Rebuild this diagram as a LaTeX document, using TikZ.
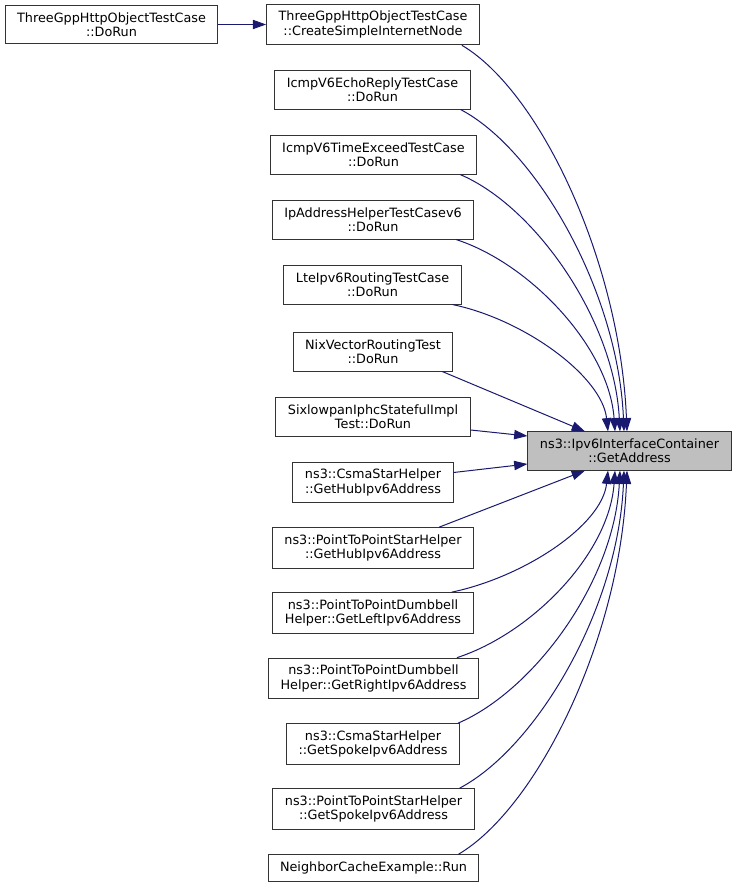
\documentclass[tikz,border=0pt]{standalone}
\usepackage{fontspec}
\setsansfont{DejaVu Sans}
\usepackage{xcolor}
\usepackage{tikz}
\usetikzlibrary{arrows.meta,calc}
\definecolor{midnight}{HTML}{191970}

\begin{document}
\begin{tikzpicture}[
  x=0.75pt, y=-0.75pt,
  fn/.style={draw=black!80, fill=white, line width=0.75pt, rectangle,
    align=center, font=\sffamily\fontsize{9.6}{10.6}\selectfont,
    inner xsep=9pt, inner ysep=5.3pt, minimum height=19.5pt},
  target/.style={fn, fill=black!25},
  call/.style={midnight, line width=0.75pt,
    -{Triangle[length=10pt,width=7pt]}}
]
\useasboundingbox (0,0) rectangle (736,887);

% Called function
\node[target] (getaddr) at (629.5,451) {ns3::Ipv6InterfaceContainer\\::GetAddress};

% Callers
\node[fn] (httprun) at (111.5,24.5) {ThreeGppHttpObjectTestCase\\::DoRun};
\node[fn] (simplenode) at (373,24.5) {ThreeGppHttpObjectTestCase\\::CreateSimpleInternetNode};
\node[fn] (echorun) at (372.5,90) {IcmpV6EchoReplyTestCase\\::DoRun};
\node[fn] (timerun) at (373.5,155) {IcmpV6TimeExceedTestCase\\::DoRun};
\node[fn] (iphelprun) at (373,220) {IpAddressHelperTestCasev6\\::DoRun};
\node[fn] (lterun) at (372.5,285) {LteIpv6RoutingTestCase\\::DoRun};
\node[fn] (nixrun) at (373,352) {NixVectorRoutingTest\\::DoRun};
\node[fn] (iphcrun) at (373,417) {SixlowpanIphcStatefulImpl\\Test::DoRun};
\node[fn] (csmahub) at (373,482.5) {ns3::CsmaStarHelper\\::GetHubIpv6Address};
\node[fn] (p2phub) at (373,548) {ns3::PointToPointStarHelper\\::GetHubIpv6Address};
\node[fn] (dbleft) at (373,613) {ns3::PointToPointDumbbell\\Helper::GetLeftIpv6Address};
\node[fn] (dbright) at (373.5,678.5) {ns3::PointToPointDumbbell\\Helper::GetRightIpv6Address};
\node[fn] (csmaspoke) at (373,744) {ns3::CsmaStarHelper\\::GetSpokeIpv6Address};
\node[fn] (p2pspoke) at (373.5,809) {ns3::PointToPointStarHelper\\::GetSpokeIpv6Address};
\node[fn] (ncrun) at (373.5,868) {NeighborCacheExample::Run};

% Calls
\draw[call] (httprun) -- (simplenode);

\draw[call] ($(simplenode.south east)+(-18,0)$) .. controls +(78,46) and +(-7,-170)
  .. ($(getaddr.north)+(-2.5,0)$);
\draw[call] ($(echorun.south east)+(-10,0)$) .. controls +(76,40) and +(-6,-140)
  .. ($(getaddr.north)+(-5.5,0)$);
\draw[call] ($(timerun.south east)+(-17,0)$) .. controls +(75,32) and +(-6,-112)
  .. ($(getaddr.north)+(-9.5,0)$);
\draw[call] ($(iphelprun.south east)+(-18,0)$) .. controls +(74,24) and +(-6,-84)
  .. ($(getaddr.north)+(-14.5,0)$);
\draw[call] ($(lterun.south east)+(-9,0)$) .. controls +(72,15) and +(-6,-55)
  .. ($(getaddr.north)+(-21.5,0)$);
\draw[call] ($(nixrun.south east)+(-11,0)$) -- ($(getaddr.north)+(-44.5,0)$);
\draw[call] ($(iphcrun.east)+(0,13)$) -- ($(getaddr.west)+(0,-15)$);
\draw[call] ($(csmahub.east)+(0,-10)$) -- ($(getaddr.west)+(0,13)$);
\draw[call] ($(p2phub.north east)+(-35,0)$) -- ($(getaddr.south)+(-44.5,0)$);
\draw[call] ($(dbleft.north east)+(-22,0)$) .. controls +(72,-15) and +(-6,55)
  .. ($(getaddr.south)+(-21.5,0)$);
\draw[call] ($(dbright.north east)+(-22,0)$) .. controls +(74,-24) and +(-6,84)
  .. ($(getaddr.south)+(-14.5,0)$);
\draw[call] ($(csmaspoke.north east)+(-2,0)$) .. controls +(75,-32) and +(-6,112)
  .. ($(getaddr.south)+(-9.5,0)$);
\draw[call] ($(p2pspoke.north east)+(-15,0)$) .. controls +(76,-40) and +(-6,140)
  .. ($(getaddr.south)+(-5.5,0)$);
\draw[call] ($(ncrun.north east)+(-21,0)$) .. controls +(78,-46) and +(-7,170)
  .. ($(getaddr.south)+(-2.5,0)$);

\end{tikzpicture}
\end{document}
